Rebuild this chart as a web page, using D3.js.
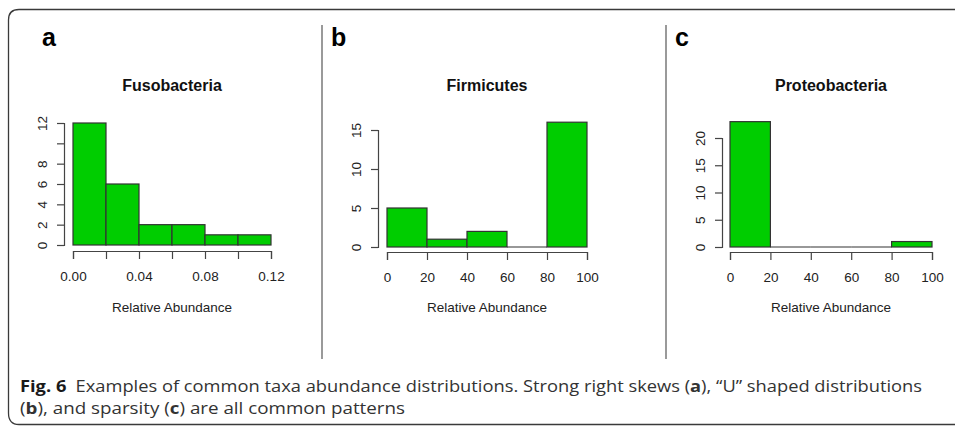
<!DOCTYPE html>
<html>
<head>
<meta charset="utf-8">
<script src="https://d3js.org/d3.v7.min.js"></script>
<style>
  body { margin: 0; background: #fff; }
  .tick text { font-family: "Liberation Sans", Arial, sans-serif; fill: #222; }
</style>
</head>
<body>
<svg id="fig" width="955" height="426"></svg>
<script>
// histogram counts
const fusoBreaks = [0, 0.02, 0.04, 0.06, 0.08, 0.10, 0.12];
const fusoCounts = [12, 6, 2, 2, 1, 1];
const firmBreaks = [0, 20, 40, 60, 80, 100];
const firmCounts = [5, 1, 2, 0, 16];
const protBreaks = [0, 20, 40, 60, 80, 100];
const protCounts = [23, 0, 0, 0, 1];

// axis ticks and labels
const fusoYTicks = [0, 2, 4, 6, 8, 10, 12];
const fusoYLabels = ["0", "2", "4", "6", "8", "", "12"];
const fusoXTicks = [0, 0.02, 0.04, 0.06, 0.08, 0.10, 0.12];
const fusoXLabels = ["0.00", "", "0.04", "", "0.08", "", "0.12"];
const firmYTicks = [0, 5, 10, 15];
const protYTicks = [0, 5, 10, 15, 20];
const pctXTicks = [0, 20, 40, 60, 80, 100];

const svg = d3.select("#fig");
const font = '"Liberation Sans", Arial, Helvetica, sans-serif';

// outer rounded frame
svg.append("path")
  .attr("d", "M 970 9.5 L 19 9.5 Q 8.5 9.5 8.5 20 L 8.5 413 Q 8.5 424.5 19 424.5 L 970 424.5")
  .attr("fill", "none").attr("stroke", "#3a3a3a").attr("stroke-width", 1.3);

// panel dividers
[322, 666].forEach(function(x) {
  svg.append("line")
    .attr("x1", x).attr("x2", x).attr("y1", 25).attr("y2", 359)
    .attr("stroke", "#9a9a9a").attr("stroke-width", 2);
});

function panel(p) {
  const g = svg.append("g");
  const x = d3.scaleLinear().domain(p.xDomain).range([p.x0, p.x1]);
  const y = d3.scaleLinear().domain(p.yDomain).range([p.base, p.yTop]);

  g.append("text").attr("x", p.letterX).attr("y", 46)
    .attr("font-family", font).attr("font-weight", "bold").attr("font-size", 25)
    .attr("fill", "#000").text(p.letter);

  g.append("text").attr("x", (p.x0 + p.x1) / 2).attr("y", 91)
    .attr("text-anchor", "middle").attr("font-family", font)
    .attr("font-weight", "bold").attr("font-size", 16).attr("fill", "#111")
    .text(p.title);

  const bins = p.counts.map(function(c, i) { return { lo: p.breaks[i], hi: p.breaks[i + 1], n: c }; });
  g.selectAll("rect").data(bins.filter(function(d) { return d.n > 0; })).enter().append("rect")
    .attr("x", function(d) { return x(d.lo); })
    .attr("width", function(d) { return x(d.hi) - x(d.lo); })
    .attr("y", function(d) { return y(d.n); })
    .attr("height", function(d) { return y(0) - y(d.n); })
    .attr("fill", "#00CD00").attr("stroke", "#333").attr("stroke-width", 1.2);
  // empty bins still show their border along the baseline
  g.selectAll("line.empty").data(bins.filter(function(d) { return d.n === 0; })).enter().append("line")
    .attr("class", "empty")
    .attr("x1", function(d) { return x(d.lo); })
    .attr("x2", function(d) { return x(d.hi); })
    .attr("y1", y(0)).attr("y2", y(0))
    .attr("stroke", "#333").attr("stroke-width", 1.2);

  // y axis
  const ya = g.append("g").attr("transform", "translate(" + p.yAxisX + ",0)")
    .call(d3.axisLeft(y).tickValues(p.yTicks).tickSizeOuter(0).tickSize(7)
      .tickFormat(function(d, i) { return p.yLabels ? p.yLabels[i] : d; }));
  ya.select(".domain").attr("stroke", "#444").attr("stroke-width", 1.2);
  ya.selectAll(".tick line").attr("stroke", "#444").attr("stroke-width", 1.2);
  ya.selectAll(".tick text")
    .attr("font-size", 13.5).attr("font-family", font)
    .attr("transform", "rotate(-90)")
    .attr("x", 0).attr("y", -17).attr("dy", 0)
    .attr("text-anchor", "middle");

  // x axis
  const xa = g.append("g").attr("transform", "translate(0," + p.xAxisY + ")")
    .call(d3.axisBottom(x).tickValues(p.xTicks).tickSizeOuter(0).tickSize(8)
      .tickFormat(function(d, i) { return p.xLabels ? p.xLabels[i] : d; }));
  xa.select(".domain").attr("stroke", "#444").attr("stroke-width", 1.2);
  xa.selectAll(".tick line").attr("stroke", "#444").attr("stroke-width", 1.2);
  xa.selectAll(".tick text")
    .attr("font-size", 13.5).attr("font-family", font)
    .attr("y", 30).attr("dy", 0);

  g.append("text").attr("x", (p.x0 + p.x1) / 2).attr("y", 312)
    .attr("text-anchor", "middle").attr("font-family", font)
    .attr("font-size", 13.5).attr("fill", "#222").text("Relative Abundance");
}

panel({ letter: "a", letterX: 42, title: "Fusobacteria",
  breaks: fusoBreaks, counts: fusoCounts, xDomain: [0, 0.12], yDomain: [0, 12],
  x0: 73, x1: 271, base: 245, yTop: 123, yAxisX: 64, xAxisY: 251,
  yTicks: fusoYTicks, yLabels: fusoYLabels, xTicks: fusoXTicks, xLabels: fusoXLabels });

panel({ letter: "b", letterX: 331, title: "Firmicutes",
  breaks: firmBreaks, counts: firmCounts, xDomain: [0, 100], yDomain: [0, 15],
  x0: 387, x1: 587, base: 247, yTop: 130, yAxisX: 378, xAxisY: 252,
  yTicks: firmYTicks, xTicks: pctXTicks });

panel({ letter: "c", letterX: 675, title: "Proteobacteria",
  breaks: protBreaks, counts: protCounts, xDomain: [0, 100], yDomain: [0, 20],
  x0: 730, x1: 932, base: 247, yTop: 138, yAxisX: 722, xAxisY: 252,
  yTicks: protYTicks, xTicks: pctXTicks });

// caption
const capFont = '"Open Sans", "Noto Sans", sans-serif';
const cap1 = svg.append("text").attr("x", 20).attr("y", 392)
  .attr("font-family", capFont).attr("font-size", 16.5).attr("fill", "#333")
  .attr("textLength", 902).attr("lengthAdjust", "spacingAndGlyphs");
cap1.append("tspan").attr("font-weight", "bold").attr("fill", "#1a1a1a").text("Fig. 6");
cap1.append("tspan").text("\u2002Examples of common taxa abundance distributions. Strong right skews (");
cap1.append("tspan").attr("font-weight", "bold").text("a");
cap1.append("tspan").text("), \u201cU\u201d shaped distributions");

const cap2 = svg.append("text").attr("x", 20).attr("y", 414)
  .attr("font-family", capFont).attr("font-size", 16.5).attr("fill", "#333")
  .attr("textLength", 385).attr("lengthAdjust", "spacingAndGlyphs");
cap2.append("tspan").text("(");
cap2.append("tspan").attr("font-weight", "bold").text("b");
cap2.append("tspan").text("), and sparsity (");
cap2.append("tspan").attr("font-weight", "bold").text("c");
cap2.append("tspan").text(") are all common patterns");
</script>
</body>
</html>
